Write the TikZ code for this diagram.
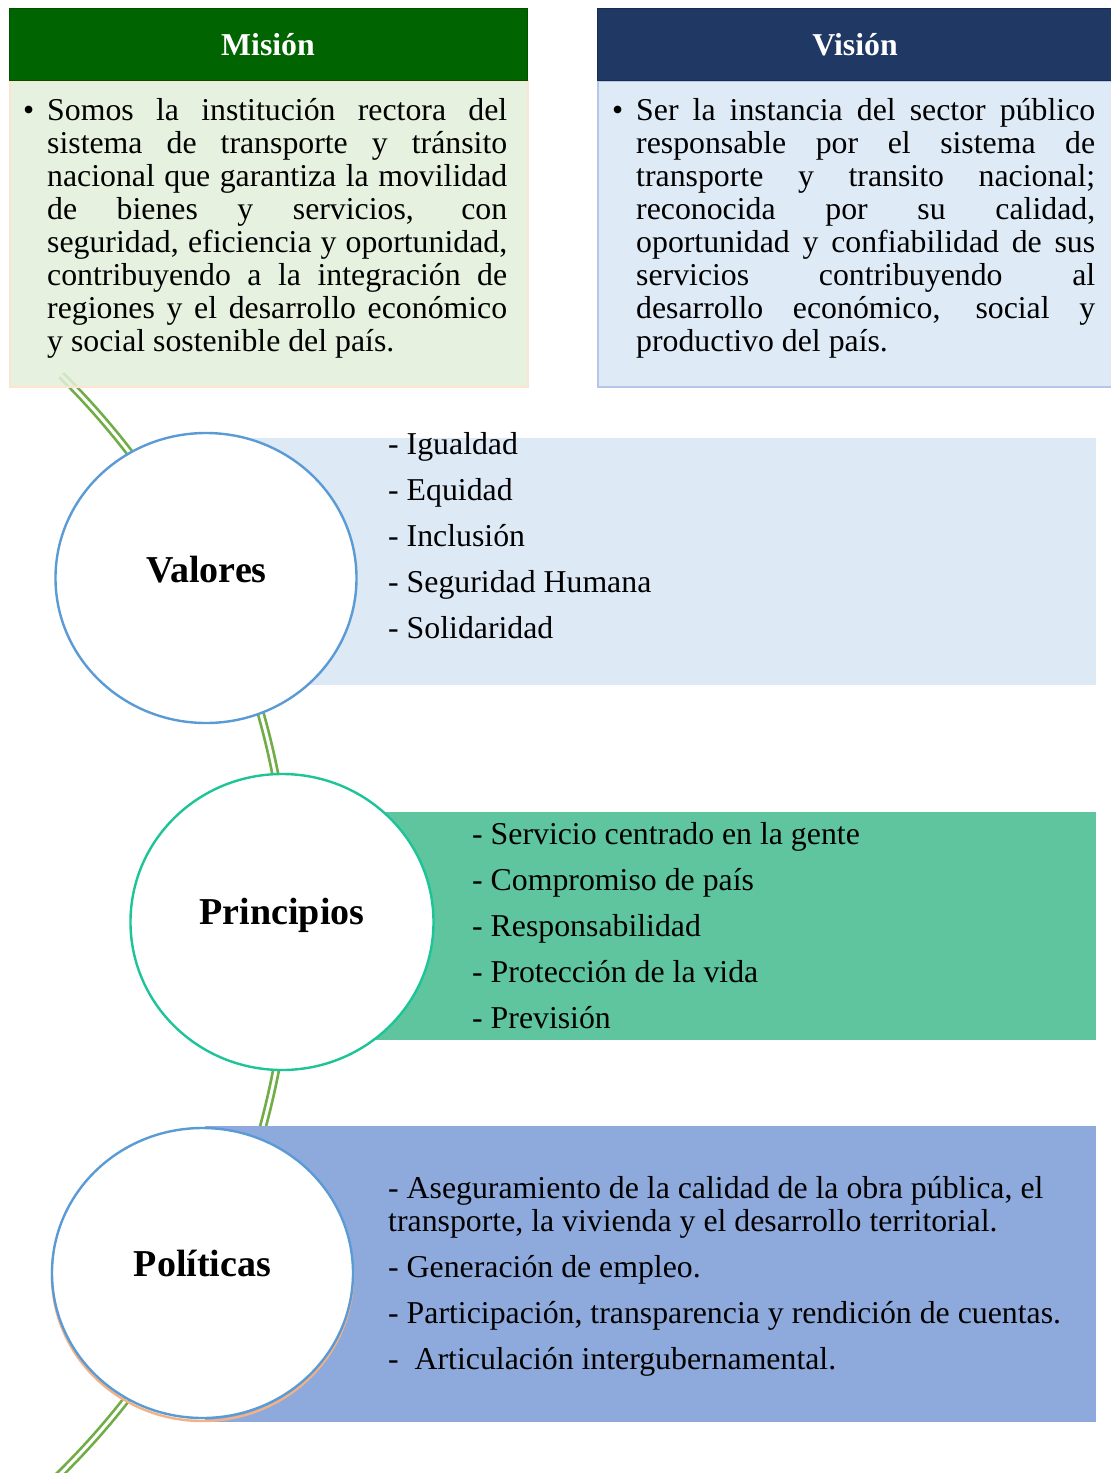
\documentclass[tikz,border=0pt]{standalone}
\usepackage{fontspec}
\setmainfont{Liberation Serif}
\usetikzlibrary{shapes.geometric}
\definecolor{mgreen}{HTML}{006400}
\definecolor{mbody}{HTML}{E2EFDA}
\definecolor{mborder}{HTML}{FCE4D0}
\definecolor{vnavy}{HTML}{203864}
\definecolor{vnavyline}{HTML}{172B50}
\definecolor{vbody}{HTML}{DEEBF7}
\definecolor{vborder}{HTML}{B4C7E7}
\definecolor{valfill}{HTML}{DDE9F5}
\definecolor{prifill}{HTML}{5EC59E}
\definecolor{polfill}{HTML}{8EAADC}
\definecolor{bluering}{HTML}{5B9BD5}
\definecolor{tealring}{HTML}{1DC498}
\definecolor{orangering}{HTML}{F4B183}
\definecolor{cgreen}{HTML}{70AD47}
\begin{document}
\begin{tikzpicture}[x=1pt,y=-1pt,
  conn/.style={draw=cgreen, line width=2.7pt, double=white, double distance=3pt},
  txt/.style={anchor=base west, inner sep=0pt, font=\fontsize{31.8}{33}\selectfont},
  hdr/.style={anchor=base, inner sep=0pt, text=white, font=\bfseries\fontsize{31.8}{33}\selectfont},
  lbl/.style={anchor=base, inner sep=0pt, font=\bfseries\fontsize{38}{40}\selectfont},
  ring/.style={ellipse, draw, fill=white, line width=2.4pt, inner sep=0pt},
  band/.style={draw=none, inner sep=0pt, anchor=north west}
]
\useasboundingbox (0,0) rectangle (1111,1473);
\fill[white] (0,0) rectangle (1111,1473);

% big arc connectors
\coordinate (C) at (-483,924);
\path (C) ++(-45.25:773) coordinate (k1);
\path (C) ++(-16.5:773) coordinate (k2);
\path (C) ++(10.3:773) coordinate (k3);
\path (C) ++(37.5:773) coordinate (k4);
\draw[conn] (k1) arc[start angle=-45.25, end angle=-36.5, radius=773];
\draw[conn] (k2) arc[start angle=-16.5, end angle=-10.5, radius=773];
\draw[conn] (k3) arc[start angle=10.3, end angle=16.2, radius=773];
\draw[conn] (k4) arc[start angle=37.5, end angle=46.5, radius=773];

% Mision
\node[band, fill=mbody, fill opacity=0.85, draw=mborder, draw opacity=1, line width=2pt,
      minimum width=518pt, minimum height=306pt] (mbox) at (9,80) {};
\node[band, fill=mgreen, draw=mgreen!80!black, line width=1pt,
      minimum width=518pt, minimum height=72pt] (mhead) at (9,8) {};
\node[hdr] (mtitle) at (268,55) {Misión};
\node[txt] (mbul) at (23,120) {\textbullet};
\foreach \t [count=\i] in {{Somos la institución rectora del},
  {sistema de transporte y tránsito},
  {nacional que garantiza la movilidad},
  {de bienes y servicios, con},
  {seguridad, eficiencia y oportunidad,},
  {contribuyendo a la integración de},
  {regiones y el desarrollo económico}}
  \node[txt] (m\i) at (47,{120+33*(\i-1)}) {\makebox[460pt][s]{\t}};
\node[txt] (m8) at (47,351) {y social sostenible del país.};

% Vision
\node[band, fill=vbody, draw=vborder, line width=2pt,
      minimum width=516pt, minimum height=306pt] (vbox) at (597,80) {};
\node[band, fill=vnavy, draw=vnavyline, line width=1.2pt,
      minimum width=516pt, minimum height=72pt] (vhead) at (597,8) {};
\node[hdr] (vtitle) at (855,55) {Visión};
\node[txt] (vbul) at (612,120) {\textbullet};
\foreach \t [count=\i] in {{Ser la instancia del sector público},
  {responsable por el sistema de},
  {transporte y transito nacional;},
  {reconocida por su calidad,},
  {oportunidad y confiabilidad de sus},
  {servicios contribuyendo al},
  {desarrollo económico, social y}}
  \node[txt] (v\i) at (636,{120+33*(\i-1)}) {\makebox[459pt][s]{\t}};
\node[txt] (v8) at (636,351) {productivo del país.};

% bands
\node[band, fill=valfill, minimum width=890pt, minimum height=247pt] (valband) at (206,438) {};
\node[band, fill=prifill, minimum width=814pt, minimum height=228pt] (priband) at (282,812) {};
\node[band, fill=polfill, minimum width=891pt, minimum height=296pt] (polband) at (205,1126) {};

% rings
\node[ring, draw=bluering, minimum width=301pt, minimum height=290pt] (val) at (206,578) {};
\node[ring, draw=tealring, minimum width=303pt, minimum height=296pt] (pri) at (282,922) {};
\node[ellipse, draw=orangering, line width=2.4pt, inner sep=0pt,
      minimum width=301pt, minimum height=290pt] (polsh) at (202.5,1276) {};
\node[ring, draw=bluering, minimum width=301pt, minimum height=290pt] (pol) at (202.5,1273) {};

\node[lbl] (valt) at (206.5,582) {Valores};
\node[lbl] (prit) at (282,924) {Principios};
\node[lbl] (polt) at (202.5,1276) {Políticas};

% lists
\foreach \t [count=\i] in {{- Igualdad},{- Equidad},{- Inclusión},{- Seguridad Humana},{- Solidaridad}}
  \node[txt] (a\i) at (388,{454+46*(\i-1)}) {\t};
\foreach \t [count=\i] in {{- Servicio centrado en la gente},{- Compromiso de país},{- Responsabilidad},{- Protección de la vida},{- Previsión}}
  \node[txt] (b\i) at (472,{844+46*(\i-1)}) {\t};
\node[txt] (c1) at (388,1198) {- Aseguramiento de la calidad de la obra pública, el};
\node[txt] (c1b) at (388,1231) {transporte, la vivienda y el desarrollo territorial.};
\node[txt] (c2) at (388,1277) {- Generación de empleo.};
\node[txt] (c3) at (388,1323) {- Participación, transparencia y rendición de cuentas.};
\node[txt] (c4) at (388,1369) {-\ \ Articulación intergubernamental.};
\end{tikzpicture}
\end{document}
